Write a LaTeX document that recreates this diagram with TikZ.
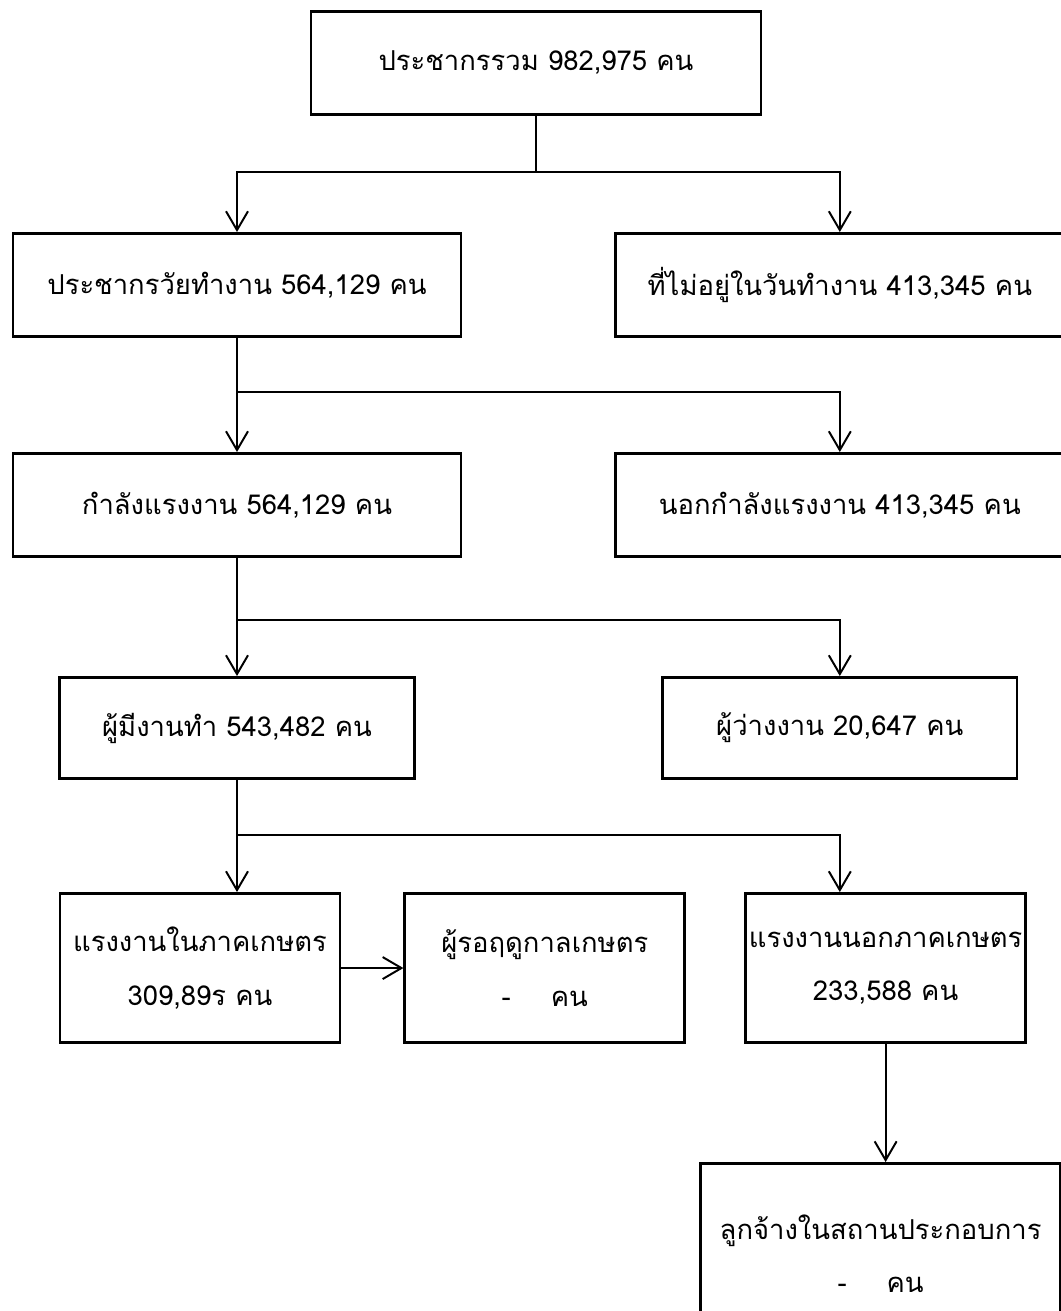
\documentclass[tikz,border=0pt]{standalone}
\usepackage{fontspec}
\newfontfamily\thaifont[Script=Thai]{Loma}
\usetikzlibrary{positioning,arrows.meta}
\tikzstyle{box} = [rectangle,
                    draw=black,
                                        line width=2pt,
                                                            minimum width=11.2cm,
                                                                                minimum height=2.58cm,
                                                                                                    inner sep=0pt,
                                                                                                                        align=center,
                                                                                                                                            font=\thaifont\fontsize{19.5}{38}\selectfont]
\tikzstyle{smallbox} = [box, minimum width=8.86cm, minimum height=2.53cm]
\tikzstyle{tallbox} = [box, minimum width=7cm, minimum height=3.73cm]
\tikzstyle{branch} = [line width=1.4pt]
\tikzstyle{link} = [branch, -{Straight Barb[length=0.47cm,width=0.55cm]}]

\begin{document}
\begin{tikzpicture}[node distance=2.9cm]
\useasboundingbox (0,0) rectangle (26.5,-32.775);
\node (total) [box, minimum width=11.25cm] at (13.4,-1.575) {ประชากรรวม 982,975 คน};
\node (workage) [box, below=2.9cm of total, xshift=-7.475cm] {ประชากรวัยทำงาน 564,129 คน};
\node (nonworkage) [box, right=3.8cm of workage] {ที่ไม่อยู่ในวันทำงาน 413,345 คน};
\node (labour) [box, below=2.85cm of workage] {กำลังแรงงาน 564,129 คน};
\node (nonlabour) [box, below=2.85cm of nonworkage] {นอกกำลังแรงงาน 413,345 คน};
\node (employed) [smallbox, below=2.95cm of labour] {ผู้มีงานทำ 543,482 คน};
\node (unemployed) [smallbox, below=2.95cm of nonlabour] {ผู้ว่างงาน 20,647 คน};
\node (agri) [tallbox, below=2.8cm of employed, xshift=-0.925cm] {แรงงานในภาคเกษตร\\309,89ร คน};
\node (seasonal) [tallbox, right=1.55cm of agri] {ผู้รอฤดูกาลเกษตร\\-\hspace{1cm}คน};
\node (nonagri) [tallbox, right=1.45cm of seasonal] {แรงงานนอกภาคเกษตร\\233,588 คน};
\node (hired) [box, minimum width=9cm, minimum height=4.5cm, below=2.95cm of nonagri, xshift=-0.125cm] {ลูกจ้างในสถานประกอบการ\\-\hspace{1cm}คน};

% split points under each parent box
\coordinate [below=1.4cm of total] (split1);
\coordinate [below=1.35cm of workage] (split2);
\coordinate [below=1.55cm of labour] (split3);
\coordinate [below=1.375cm of employed] (split4);

\draw[branch] (total) -- (split1);
\draw[link] (split1) -| (workage);
\draw[link] (split1) -| (nonworkage);

\draw[branch] (workage) -- (split2);
\draw[link] (split2) -- (labour);
\draw[link] (split2) -| (nonlabour);

\draw[branch] (labour) -- (split3);
\draw[link] (split3) -- (employed);
\draw[link] (split3) -| (unemployed);

\draw[branch] (employed) -- (split4);
\draw[link] (split4) -- (split4 |- agri.north);
\draw[link] (split4) -| (nonlabour |- nonagri.north);
\draw[link] (agri) -- (seasonal);
\draw[link] (nonagri.south) -- (nonagri.south |- hired.north);
\end{tikzpicture}
\end{document}
